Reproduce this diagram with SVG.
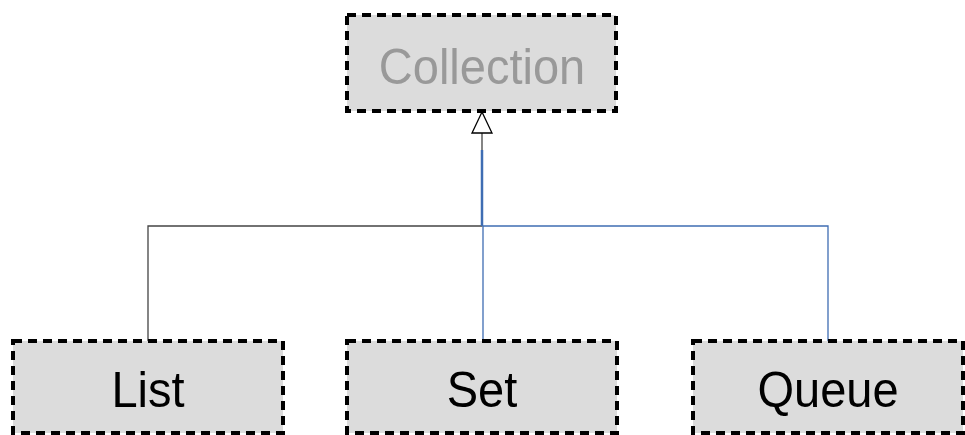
<svg xmlns="http://www.w3.org/2000/svg" width="965" height="435" viewBox="0 0 965 435">
<style>
.box{fill:#dcdcdc;stroke:#000;stroke-width:4;stroke-dasharray:9 6}
.lbl{font-family:"Liberation Sans",Arial,sans-serif;font-size:47px;text-anchor:middle;fill:#000}
.abs{fill:#999}
.blk{stroke:#444;stroke-width:1.3;fill:none}
.blu{stroke:#3f6db3;stroke-width:1.3;fill:none}
</style>
<rect width="965" height="435" fill="#fff"/>
<g id="connectors">
<polyline class="blk" points="148,341 148,226 482,226 482,133"/>
<line class="blu" x1="482" y1="150" x2="482" y2="226" style="stroke-width:2.5"/>
<polyline class="blu" points="483,341 483,226 828,226 828,341"/>
<polygon points="482,112 472,133 492,133" fill="#fff" stroke="#000" stroke-width="1.3"/>
</g>
<g id="collection">
<rect class="box" x="347" y="15" width="269" height="96"/>
<text class="lbl abs" transform="translate(482,84) scale(1,1.07)">Collection</text>
</g>
<g id="list">
<rect class="box" x="13" y="341" width="270" height="92"/>
<text class="lbl" transform="translate(148,407) scale(1,1.07)">List</text>
</g>
<g id="set">
<rect class="box" x="347" y="341" width="270" height="92"/>
<text class="lbl" transform="translate(482,407) scale(1,1.07)">Set</text>
</g>
<g id="queue">
<rect class="box" x="693" y="341" width="270" height="92"/>
<text class="lbl" transform="translate(828,407) scale(1,1.07)">Queue</text>
</g>
</svg>
